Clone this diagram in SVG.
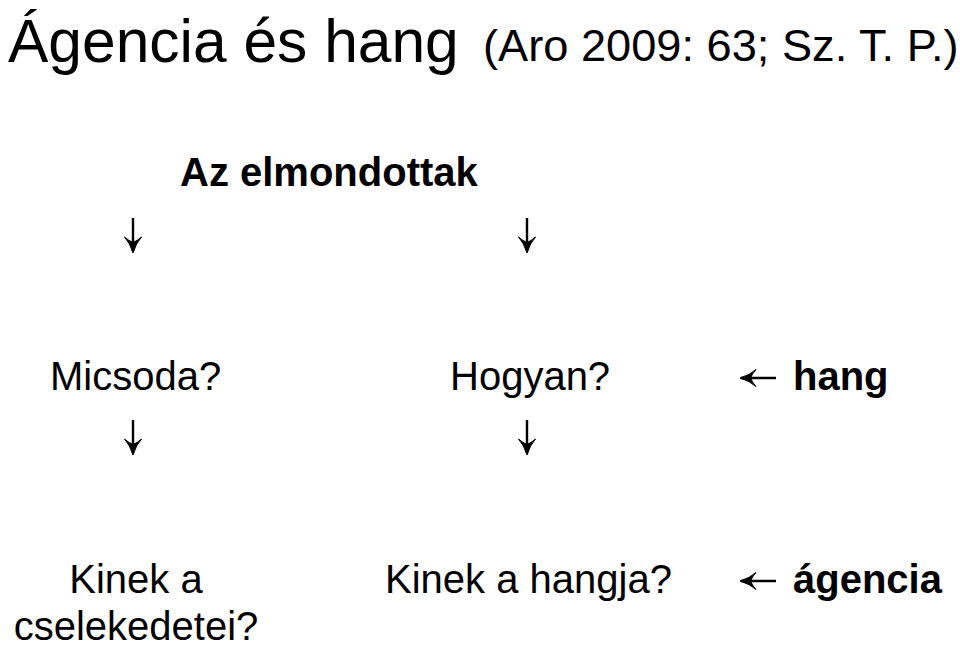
<svg xmlns="http://www.w3.org/2000/svg" width="960" height="647" viewBox="0 0 960 647">
<style>
text{font-family:"Liberation Sans",Arial,sans-serif;fill:#000}
.t{font-size:40px}
.b{font-weight:bold}
.ar{fill:none;stroke:#000;stroke-width:2.4}
</style>
<defs>
<g id="down"><path class="ar" d="M0,0V33"/><path d="M-8.5,19Q-3,25 0,35Q3,25 8.5,19Q4,23 0,24.5Q-4,23 -8.5,19Z" fill="#000" stroke="#000" stroke-width="1"/></g>
<g id="left"><path class="ar" d="M-2,0H-37"/><path d="M-38,0Q-28,-3 -22,-8.5Q-26,-4 -27.5,0Q-26,4 -22,8.5Q-28,3 -38,0Z" fill="#000" stroke="#000" stroke-width="1"/></g>
</defs>
<rect width="960" height="647" fill="#fff"/>
<g id="title">
<text x="8" y="62" font-size="60.5">Ágencia és hang</text>
<text x="483" y="61" font-size="45.2">(Aro 2009: 63; Sz. T. P.)</text>
</g>
<g id="elmondottak"><text class="t b" x="180" y="186">Az elmondottak</text></g>
<g id="micsoda"><text class="t" x="50" y="390">Micsoda?</text></g>
<g id="hogyan"><text class="t" x="450" y="390">Hogyan?</text></g>
<g id="hang"><text class="t b" x="793" y="390">hang</text></g>
<g id="kinek-cselekedetei"><text class="t" text-anchor="middle"><tspan x="136" y="593">Kinek a</tspan><tspan x="136" y="640">cselekedetei?</tspan></text></g>
<g id="kinek-hangja"><text class="t" x="385" y="593">Kinek a hangja?</text></g>
<g id="agencia"><text class="t b" x="793" y="593">ágencia</text></g>
<g id="connectors">
<use href="#down" x="133" y="218"/>
<use href="#down" x="527" y="218"/>
<use href="#down" x="133" y="420"/>
<use href="#down" x="527" y="420"/>
<use href="#left" x="778" y="378"/>
<use href="#left" x="778" y="581"/>
</g>
</svg>
